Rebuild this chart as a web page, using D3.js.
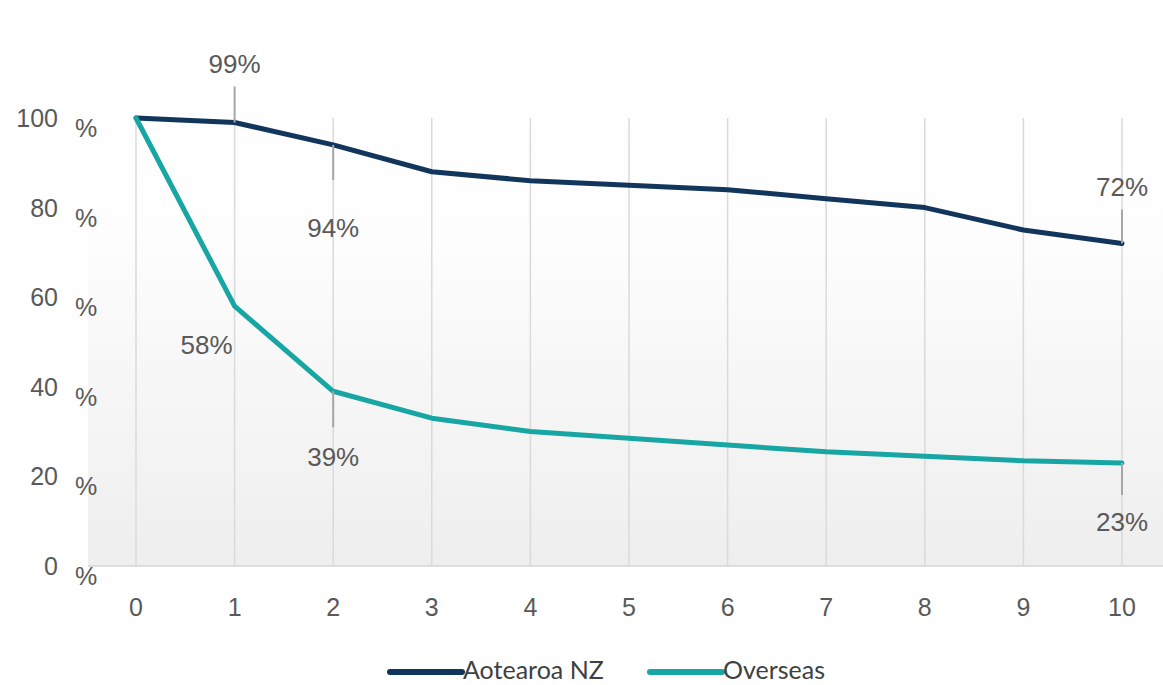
<!DOCTYPE html>
<html>
<head>
<meta charset="utf-8">
<script src="https://cdn.jsdelivr.net/npm/d3@7"></script>
<style>
  body { margin: 0; background: #fff; }
  text { font-family: "Liberation Sans", Arial, sans-serif; }
</style>
</head>
<body>
<div id="chart"></div>
<script>
// data
var years = [0, 1, 2, 3, 4, 5, 6, 7, 8, 9, 10]
var nzValues = [100, 99, 94, 88, 86, 85, 84, 82, 80, 75, 72]
var overseasValues = [100, 58, 39, 33, 30, 28.5, 27, 25.5, 24.5, 23.5, 23]
var yTicks = [0, 20, 40, 60, 80, 100]
var seriesNames = ["Aotearoa NZ", "Overseas"]
var seriesColors = ["#12355b", "#17a6a3"]

// which points get a label and where it sits (leader length, text offset)
var labelsNZ = [{i: 1, lead: -36, dy: -49}, {i: 2, lead: 35, dy: 92}, {i: 10, lead: -34, dy: -47}]
var labelsOS = [{i: 1, lead: 0, dy: 48, dx: -28}, {i: 2, lead: 36, dy: 75}, {i: 10, lead: 32, dy: 68}]

var W = 1163, H = 685

var svg = d3.select("#chart").append("svg")
    .attr("width", W)
    .attr("height", H)

var x = d3.scaleLinear().domain([0, 10]).range([136, 1122])
var y = d3.scaleLinear().domain([0, 100]).range([566, 118])

// background gradient
var defs = svg.append("defs")
var grad = defs.append("linearGradient")
    .attr("id", "bg")
    .attr("x1", 0).attr("y1", 0).attr("x2", 0).attr("y2", 1)
grad.append("stop").attr("offset", "0%").attr("stop-color", "#ffffff")
grad.append("stop").attr("offset", "40%").attr("stop-color", "#fdfdfd")
grad.append("stop").attr("offset", "100%").attr("stop-color", "#eeeeee")

svg.append("rect")
    .attr("x", 88).attr("y", 20)
    .attr("width", W - 88).attr("height", y(0) - 20)
    .attr("fill", "url(#bg)")

// vertical gridlines
svg.append("g").selectAll("line")
    .data(years)
    .enter().append("line")
    .attr("x1", d => x(d)).attr("x2", d => x(d))
    .attr("y1", y(100)).attr("y2", y(0))
    .attr("stroke", "#dadada")
    .attr("stroke-width", 1.5)

// baseline
svg.append("line")
    .attr("x1", 88).attr("x2", W)
    .attr("y1", y(0)).attr("y2", y(0))
    .attr("stroke", "#d4d4d4")
    .attr("stroke-width", 1.5)

// y labels: number and % separate
var yl = svg.append("g")
yl.selectAll(".num")
    .data(yTicks)
    .enter().append("text")
    .attr("x", 58)
    .attr("y", d => y(d) + 9)
    .attr("text-anchor", "end")
    .attr("font-size", 25)
    .attr("fill", "#595959")
    .text(d => d)
yl.selectAll(".pct")
    .data(yTicks)
    .enter().append("text")
    .attr("x", 86)
    .attr("y", d => y(d) + 19)
    .attr("text-anchor", "middle")
    .attr("font-size", 25)
    .attr("fill", "#595959")
    .text("%")

// x axis labels
svg.append("g").selectAll("text")
    .data(years)
    .enter().append("text")
    .attr("x", d => x(d))
    .attr("y", 616)
    .attr("text-anchor", "middle")
    .attr("font-size", 25)
    .attr("fill", "#595959")
    .text(d => d)

// lines
var line = d3.line()
    .x((d, i) => x(years[i]))
    .y(d => y(d))

var allSeries = [nzValues, overseasValues]
allSeries.map(function(vals, k) {
    svg.append("path")
        .datum(vals)
        .attr("fill", "none")
        .attr("stroke", seriesColors[k])
        .attr("stroke-width", 5)
        .attr("stroke-linejoin", "round")
        .attr("stroke-linecap", "round")
        .attr("d", line)
})

// data labels with leader lines
function drawLabels(vals, labels) {
    labels.map(function(l) {
        var v = vals[l.i]
        var px = x(years[l.i]), py = y(v)
        if (l.lead != 0) {
            svg.append("line")
                .attr("x1", px).attr("x2", px)
                .attr("y1", py).attr("y2", py + l.lead)
                .attr("stroke", "#a6a6a6").attr("stroke-width", 2)
        }
        svg.append("text")
            .attr("x", px + (l.dx || 0)).attr("y", py + l.dy)
            .attr("text-anchor", "middle")
            .attr("font-size", 26).attr("fill", "#595959")
            .text(Math.round(v) + "%")
    })
}
drawLabels(nzValues, labelsNZ)
drawLabels(overseasValues, labelsOS)

// legend
var legX = [390, 650]
seriesNames.map(function(name, k) {
    svg.append("line")
        .attr("x1", legX[k]).attr("x2", legX[k] + 72)
        .attr("y1", 672).attr("y2", 672)
        .attr("stroke", seriesColors[k])
        .attr("stroke-width", 6)
        .attr("stroke-linecap", "round")
    svg.append("text")
        .attr("x", legX[k] + 73)
        .attr("y", 679)
        .style("font-family", "Lato, sans-serif")
        .attr("font-size", 25)
        .attr("fill", "#404040")
        .text(name)
})
</script>
</body>
</html>
